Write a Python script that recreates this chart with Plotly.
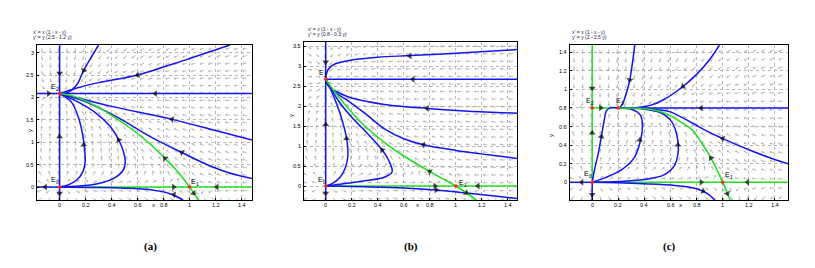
import math
import plotly.graph_objects as go

# ---------------- data ----------------
# model printed on each panel: x' = x(1 - x - y), y' = y(R - S y)
R_VALUES = [2.5, 0.8, 2.0]
S_VALUES = [1.2, 0.3, 2.5]
EQ_LINE1 = ["x' = x (1 - x - y)", "x' = x (1 - x - y)", "x' = x (1 - x - y)"]
EQ_LINE2 = ["y' = y (2.5 - 1.2 y)", "y' = y (0.8 - 0.3 y)", "y' = y (2 - 2.5 y)"]
PANEL_LABELS = ["(a)", "(b)", "(c)"]

X_TICKS = [0, 0.2, 0.4, 0.6, 0.8, 1, 1.2, 1.4]
X_TICKTEXT = ["0", "0.2", "0.4", "0.6", "0.8", "1", "1.2", "1.4"]
Y_TICKS_A = [0, 0.5, 1, 1.5, 2, 2.5, 3]
Y_TEXT_A = ["0", "0.5", "1", "1.5", "2", "2.5", "3"]
Y_TICKS_B = [0, 0.5, 1, 1.5, 2, 2.5, 3, 3.5]
Y_TEXT_B = ["0", "0.5", "1", "1.5", "2", "2.5", "3", "3.5"]
Y_TICKS_C = [0, 0.2, 0.4, 0.6, 0.8, 1, 1.2, 1.4]
Y_TEXT_C = ["0", "0.2", "0.4", "0.6", "0.8", "1", "1.2", "1.4"]

# ---- panel (a) ----
A_BLUE_X = [
    [0, 0], [-0.174, 1.48], [-0.174, 0],
    [0.0, 0.05, 0.1, 0.14, 0.185, 0.25, 0.30],
    [0.0, 0.12, 0.3, 0.6, 0.98, 1.31],
    [0.0, 0.15, 0.4, 0.865, 1.2, 1.48],
    [0.0, 0.2, 0.45, 0.7, 0.94, 1.15, 1.3, 1.48],
    [0.0, 0.15, 0.3, 0.42, 0.49, 0.505, 0.49, 0.455, 0.39, 0.28, 0.14, 0.0],
    [0.0, 0.06, 0.13, 0.18, 0.197, 0.19, 0.175, 0.145, 0.09, 0.0],
    [0.0, 0.2, 0.5, 0.7, 0.85, 0.95],
]
A_BLUE_Y = [
    [-0.29, 3.17], [2.085, 2.085], [0, 0],
    [2.085, 2.1, 2.18, 2.32, 2.6, 2.93, 3.17],
    [2.085, 2.2, 2.33, 2.5, 2.85, 3.17],
    [2.085, 1.98, 1.8, 1.51, 1.26, 1.05],
    [2.085, 1.9, 1.55, 1.12, 0.77, 0.48, 0.32, 0.19],
    [0.0, 0.02, 0.08, 0.2, 0.38, 0.55, 0.8, 1.05, 1.35, 1.65, 1.9, 2.085],
    [0.0, 0.04, 0.15, 0.35, 0.6, 0.9, 1.2, 1.55, 1.9, 2.085],
    [0.0, -0.01, -0.025, -0.06, -0.15, -0.29],
]
A_GREEN_X = [[0, 1.48],
             [1.07, 1.0, 0.9, 0.81, 0.7, 0.55, 0.4, 0.25, 0.1, 0.0]]
A_GREEN_Y = [[0, 0],
             [-0.29, 0.0, 0.37, 0.64, 0.95, 1.3, 1.6, 1.85, 2.03, 2.085]]
A_ARROW_X = [0, 0, 0, -0.085, 0.736, -0.11, 0.877, 1.21, 0.185, 0.6, 0.865, 0.94, 0.81, 1.03, 0.455, 0.185, 0.88]
A_ARROW_Y = [2.54, 1.12, -0.14, 2.085, 2.085, 0, 0, 0, 2.6, 2.5, 1.51, 0.77, 0.64, -0.14, 1.05, 0.94, -0.17]
A_ARROW_DX = [0, 0, 0, 1, -1, -1, 1, -1, -0.11, -0.68, -0.46, -0.24, -0.11, 0.04, -0.065, -0.01, -0.1]
A_ARROW_DY = [-1, 1, -1, 0, 0, 0, 0, 0, -0.61, -0.52, 0.29, 0.35, 0.31, -0.14, 0.3, 0.3, 0.05]
A_EQ_X = [0, 1, 0]
A_EQ_Y = [0, 0, 2.085]
A_EQ_IDX = ["0", "1", "2"]
A_EQ_LX = [-0.05, 1.03, -0.046]
A_EQ_LY = [0.17, 0.13, 2.24]

# ---- panel (b) ----
B_BLUE_X = [
    [0, 0], [0, 1.47],
    [0.0, 0.005, 0.02, 0.07, 0.2, 0.4, 0.65, 1.0, 1.47],
    [0.0, 0.01, 0.05, 0.12, 0.2, 0.45, 0.78, 1.1, 1.47],
    [0.0, 0.02, 0.08, 0.15, 0.3, 0.455, 0.6, 0.75, 1.0, 1.25, 1.47],
    [0.0, 0.15, 0.3, 0.45, 0.51, 0.49, 0.434, 0.33, 0.2, 0.1, 0.03, 0.0],
    [0.0, 0.05, 0.11, 0.15, 0.17, 0.16, 0.13, 0.09, 0.04, 0.0],
    [0.0, 0.3, 0.6, 0.85, 1.1, 1.3, 1.47],
]
B_BLUE_Y = [
    [-0.35, 3.6], [2.667, 2.667],
    [2.667, 2.8, 2.92, 3.05, 3.15, 3.22, 3.26, 3.32, 3.41],
    [2.667, 2.55, 2.42, 2.3, 2.2, 2.04, 1.94, 1.87, 1.82],
    [2.667, 2.52, 2.32, 2.18, 1.82, 1.42, 1.18, 1.03, 0.89, 0.78, 0.69],
    [0.0, 0.06, 0.13, 0.22, 0.35, 0.6, 0.9, 1.28, 1.72, 2.12, 2.5, 2.667],
    [0.0, 0.06, 0.22, 0.45, 0.75, 1.2, 1.6, 2.0, 2.4, 2.667],
    [0.0, -0.02, -0.05, -0.1, -0.18, -0.25, -0.31],
]
B_GREEN_X = [[0, 1.47],
             [1.16, 1.0, 0.8, 0.6, 0.455, 0.3, 0.17, 0.07, 0.015, 0.0]]
B_GREEN_Y = [[0, 0],
             [-0.35, 0.0, 0.36, 0.75, 1.08, 1.5, 1.95, 2.35, 2.6, 2.667]]
B_ARROW_X = [0, 0, 0, 0.67, 0.647, 0.78, 0.75, 0.8, 1.08, 0.434, 0.16, 0.84, 1.17, 0.85]
B_ARROW_Y = [3.1, 1.54, -0.18, 2.667, 3.25, 1.94, 1.03, 0.36, -0.17, 0.9, 1.19, 0, 0, -0.1]
B_ARROW_DX = [0, 0, 0, -1, -1, -1, -0.4, -0.2, 0.08, -0.1, -0.01, 1, -1, 0.25]
B_ARROW_DY = [-1, 1, -1, 0, -0.1, 0.2, 0.29, 0.39, -0.17, 0.38, 0.4, 0, 0, -0.05]
B_EQ_X = [0, 1, 0]
B_EQ_Y = [0, 0, 2.667]
B_EQ_IDX = ["0", "1", "2"]
B_EQ_LX = [-0.04, 1.04, -0.03]
B_EQ_LY = [0.16, 0.1, 2.84]

# ---- panel (c) ----
C_BLUE_X = [
    [0, 0], [-0.17, 0], [0.2, 1.5],
    [0.326, 0.31, 0.288, 0.26, 0.235, 0.215, 0.2],
    [0.2, 0.35, 0.45, 0.55, 0.695, 0.8, 0.9, 0.975],
    [0.2, 0.4, 0.5, 0.593, 0.77, 0.88, 1.0, 1.2, 1.35, 1.5],
    [0.0, 0.2, 0.4, 0.55, 0.63, 0.66, 0.65, 0.61, 0.52, 0.38, 0.2],
    [0.0, 0.1, 0.22, 0.32, 0.37, 0.385, 0.37, 0.3, 0.2],
    [0.0, 0.02, 0.045, 0.07, 0.09, 0.11, 0.14, 0.2],
    [0.0, 0.3, 0.6, 0.8, 0.88, 0.937],
]
C_BLUE_Y = [
    [-0.19, 0], [0, 0], [0.8, 0.8],
    [1.476, 1.3, 1.1, 0.95, 0.85, 0.81, 0.8],
    [0.8, 0.805, 0.83, 0.89, 1.03, 1.16, 1.32, 1.476],
    [0.8, 0.795, 0.78, 0.76, 0.635, 0.55, 0.47, 0.35, 0.27, 0.2],
    [0.0, 0.01, 0.03, 0.08, 0.18, 0.35, 0.5, 0.65, 0.75, 0.79, 0.8],
    [0.0, 0.05, 0.13, 0.26, 0.45, 0.6, 0.72, 0.785, 0.8],
    [0.0, 0.15, 0.3, 0.49, 0.65, 0.77, 0.8, 0.8],
    [0.0, -0.01, -0.03, -0.07, -0.12, -0.19],
]
C_GREEN_X = [[0, 0], [0, 0.2], [0, 1.5],
             [0.2, 0.35, 0.5, 0.593, 0.7, 0.77, 0.84, 0.91, 1.0, 1.057]]
C_GREEN_Y = [[0, 1.476], [0.8, 0.8], [0, 0],
             [0.8, 0.795, 0.77, 0.72, 0.63, 0.56, 0.42, 0.26, 0.0, -0.19]]
C_ARROW_X = [0, 0, 0, 0.065, 0.835, -0.08, 0.835, 1.19, 0.288, 0.695, 1.0, 0.91, 1.035, 0.657, 0.364, 0.07, 0.85]
C_ARROW_Y = [1.01, 0.53, -0.13, 0.8, 0.8, 0, 0, 0, 1.1, 1.03, 0.47, 0.26, -0.12, 0.4, 0.455, 0.49, -0.095]
C_ARROW_DX = [0, 0, 0, 1, -1, -1, 1, -1, -0.02, -0.14, -0.2, -0.07, 0.02, 0.0, 0.01, 0.02, 0.08]
C_ARROW_DY = [-1, 1, -1, 0, 0, 0, 0, 0, -0.2, -0.13, 0.09, 0.16, -0.07, 0.1, 0.15, 0.16, -0.05]
C_EQ_X = [0, 1, 0, 0.2]
C_EQ_Y = [0, 0, 0.8, 0.8]
C_EQ_IDX = ["0", "1", "2", "3"]
C_EQ_LX = [-0.04, 1.04, -0.03, 0.2]
C_EQ_LY = [0.09, 0.08, 0.88, 0.88]

# ---------------- layout (pixels of the 815x268 page) ----------------
W, H = 815, 268
PANELS = [
    dict(px=(37, 252), py=(45, 200), xr=(-0.174, 1.48), yr=(-0.29, 3.17),
         yt=Y_TICKS_A, ytext=Y_TEXT_A,
         blue=(A_BLUE_X, A_BLUE_Y), green=(A_GREEN_X, A_GREEN_Y),
         arr=(A_ARROW_X, A_ARROW_Y, A_ARROW_DX, A_ARROW_DY),
         eq=(A_EQ_X, A_EQ_Y, A_EQ_IDX, A_EQ_LX, A_EQ_LY),
         grid=(-0.14, 1.44, 25, -0.24, 3.1, 21), txt=(31, 32), lab=142,
         xt=150, yt_px=(25, 131)),
    dict(px=(304, 517), py=(42, 200), xr=(-0.167, 1.47), yr=(-0.35, 3.6),
         yt=Y_TICKS_B, ytext=Y_TEXT_B,
         blue=(B_BLUE_X, B_BLUE_Y), green=(B_GREEN_X, B_GREEN_Y),
         arr=(B_ARROW_X, B_ARROW_Y, B_ARROW_DX, B_ARROW_DY),
         eq=(B_EQ_X, B_EQ_Y, B_EQ_IDX, B_EQ_LX, B_EQ_LY),
         grid=(-0.14, 1.44, 25, -0.3, 3.5, 21), txt=(306, 29), lab=411,
         xt=417, yt_px=(291, 116)),
    dict(px=(570, 788), py=(45, 200), xr=(-0.17, 1.5), yr=(-0.19, 1.476),
         yt=Y_TICKS_C, ytext=Y_TEXT_C,
         blue=(C_BLUE_X, C_BLUE_Y), green=(C_GREEN_X, C_GREEN_Y),
         arr=(C_ARROW_X, C_ARROW_Y, C_ARROW_DX, C_ARROW_DY),
         eq=(C_EQ_X, C_EQ_Y, C_EQ_IDX, C_EQ_LX, C_EQ_LY),
         grid=(-0.14, 1.46, 25, -0.15, 1.43, 18), txt=(570, 32), lab=678,
         xt=684, yt_px=(556, 136)),
]

BLUE = "#1414f0"
GREEN = "#1ee01e"
FONT = "Liberation Sans"


def fx(p):
    return p / W


def fy(p):
    return 1 - p / H


fig = go.Figure()
layout = dict(width=W, height=H, margin=dict(l=0, r=0, t=0, b=0),
              paper_bgcolor="white", plot_bgcolor="white", showlegend=False)
annotations = []
TICKFONT = dict(size=5.5, family=FONT, color="black")

for i, P in enumerate(PANELS):
    k = "" if i == 0 else str(i + 1)
    xa, ya = "x" + k, "y" + k
    common = dict(showline=True, linecolor="black", linewidth=1, mirror=True,
                  ticks="inside", ticklen=2, tickcolor="black", showticklabels=False,
                  showgrid=True, gridcolor="#b8b8b8", griddash="dot", gridwidth=0.8,
                  zeroline=False, automargin=False, fixedrange=True)
    layout["xaxis" + k] = dict(common, domain=[fx(P["px"][0]), fx(P["px"][1])],
                               range=list(P["xr"]), anchor=ya, tickvals=X_TICKS)
    layout["yaxis" + k] = dict(common, domain=[fy(P["py"][1]), fy(P["py"][0])],
                               range=list(P["yr"]), anchor=xa, tickvals=P["yt"])
    # tick labels placed just outside the frame
    for tv, tt in zip(X_TICKS, X_TICKTEXT):
        annotations.append(dict(x=tv, y=fy(204.5), xref=xa, yref="paper", text=tt,
                                showarrow=False, xanchor="center", yanchor="middle",
                                font=TICKFONT))
    for tv, tt in zip(P["yt"], P["ytext"]):
        annotations.append(dict(x=fx(P["px"][0] - 1.5), y=tv, xref="paper", yref=ya, text=tt,
                                showarrow=False, xanchor="right", yanchor="middle",
                                font=TICKFONT))
    # axis titles
    annotations.append(dict(x=fx(P["xt"]), y=fy(209.5), xref="paper",
                            yref="paper", text="x", showarrow=False,
                            font=dict(size=6, family=FONT, color="black")))
    annotations.append(dict(x=fx(P["yt_px"][0]), y=fy(P["yt_px"][1]),
                            xref="paper", yref="paper", text="y", showarrow=False, textangle=-90,
                            font=dict(size=6, family=FONT, color="black")))

    # direction field (from the printed equations)
    sx = (P["px"][1] - P["px"][0]) / (P["xr"][1] - P["xr"][0])
    sy = (P["py"][1] - P["py"][0]) / (P["yr"][1] - P["yr"][0])
    x0, x1, nx, y0, y1, ny = P["grid"]
    r, s = R_VALUES[i], S_VALUES[i]
    QX, QY = [], []
    L, hd = 4.2, 1.6
    for a in range(nx):
        gx = x0 + (x1 - x0) * a / (nx - 1)
        for b in range(ny):
            gy = y0 + (y1 - y0) * b / (ny - 1)
            u = gx * (1 - gx - gy) * sx
            v = gy * (r - s * gy) * sy
            n = math.hypot(u, v)
            if n < 1e-9:
                continue
            u, v = u / n, v / n
            hx, hy = gx + L * u / sx, gy + L * v / sy
            QX += [gx, hx, None]
            QY += [gy, hy, None]
            for ang in (2.6, -2.6):
                du = u * math.cos(ang) - v * math.sin(ang)
                dv = u * math.sin(ang) + v * math.cos(ang)
                QX += [hx, hx + hd * du / sx, None]
                QY += [hy, hy + hd * dv / sy, None]
    fig.add_trace(go.Scatter(x=QX, y=QY, mode="lines", xaxis=xa, yaxis=ya,
                             line=dict(color="#a6a6a6", width=0.7), hoverinfo="skip"))

    gxs, gys = P["green"]
    for cx, cy in zip(gxs[:-1], gys[:-1]):
        fig.add_trace(go.Scatter(x=cx, y=cy, mode="lines", xaxis=xa, yaxis=ya,
                                 line=dict(color=GREEN, width=1.5)))
    bxs, bys = P["blue"]
    for cx, cy in zip(bxs, bys):
        fig.add_trace(go.Scatter(x=cx, y=cy, mode="lines", xaxis=xa, yaxis=ya,
                                 line=dict(color=BLUE, width=1.5, shape="spline", smoothing=0.9)))
    fig.add_trace(go.Scatter(x=gxs[-1], y=gys[-1], mode="lines", xaxis=xa, yaxis=ya,
                             line=dict(color=GREEN, width=1.5, shape="spline", smoothing=0.9)))

    # arrow heads along trajectories
    AX, AY, DX, DY = P["arr"]
    MX, MY, MS = [], [], []
    for ax_, ay_, dx_, dy_ in zip(AX, AY, DX, DY):
        du, dv = dx_ * sx, dy_ * sy
        n = math.hypot(du, dv)
        du, dv = du / n, dv / n
        MX += [ax_ - 0.8 * du / sx, ax_]
        MY += [ay_ - 0.8 * dv / sy, ay_]
        MS += [0, 6]
    fig.add_trace(go.Scatter(x=MX, y=MY, mode="markers", xaxis=xa, yaxis=ya,
                             marker=dict(symbol="triangle-up", size=MS, angleref="previous",
                                         color="black", line=dict(width=0))))

    # equilibria
    EX, EY, EI, LX, LY = P["eq"]
    fig.add_trace(go.Scatter(x=EX, y=EY, mode="markers", xaxis=xa, yaxis=ya,
                             marker=dict(symbol="circle", size=3.5, color="#ff2020")))
    for lx, ly, idx in zip(LX, LY, EI):
        annotations.append(dict(x=lx, y=ly, xref=xa, yref=ya, text="E", showarrow=False,
                                font=dict(size=7, family=FONT, color="black")))
        annotations.append(dict(x=lx, y=ly, xref=xa, yref=ya, text=idx, showarrow=False,
                                xshift=4, yshift=-2.5,
                                font=dict(size=5, family=FONT, color="black")))

    tx, ty = P["txt"]
    annotations.append(dict(x=fx(tx), y=fy(ty), xref="paper", yref="paper", xanchor="left",
                            yanchor="middle", showarrow=False, text=EQ_LINE1[i],
                            font=dict(size=5, family=FONT, color="#1c1c50")))
    annotations.append(dict(x=fx(tx), y=fy(ty + 5), xref="paper", yref="paper", xanchor="left",
                            yanchor="middle", showarrow=False, text=EQ_LINE2[i],
                            font=dict(size=5, family=FONT, color="#1c1c50")))
    annotations.append(dict(x=fx(P["lab"]), y=fy(255), xref="paper", yref="paper",
                            showarrow=False, text="<b>" + PANEL_LABELS[i] + "</b>",
                            font=dict(size=11, family="Liberation Serif", color="black")))

layout["annotations"] = annotations
fig.update_layout(**layout)
fig.write_html("out.html", config={"displayModeBar": False},
               post_script="document.body.style.margin='0';document.body.style.padding='0';")
